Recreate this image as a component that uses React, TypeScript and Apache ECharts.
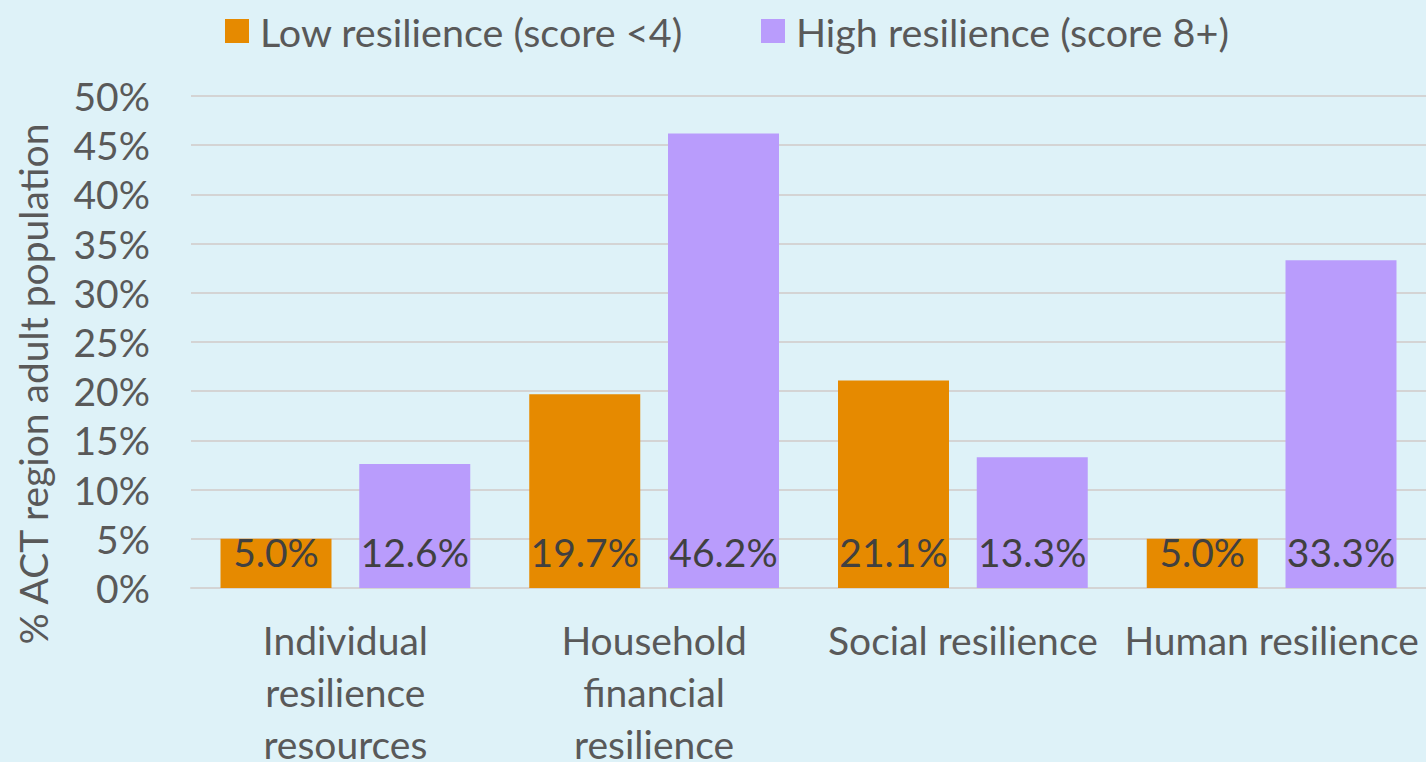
import React, { useEffect, useRef } from "react";
import * as echarts from "echarts";

const categories = [
  "Individual resilience resources",
  "Household financial resilience",
  "Social resilience",
  "Human resilience",
];
const categoryLabels = [
  "Individual\nresilience\nresources",
  "Household\nfinancial\nresilience",
  "Social resilience",
  "Human resilience",
];
const lowResilience = [5.0, 19.7, 21.1, 5.0];
const highResilience = [12.6, 46.2, 13.3, 33.3];
const seriesNames = ["Low resilience (score <4)", "High resilience (score 8+)"];
const yAxisTitle = "% ACT region adult population";

const FONT = "Lato";
const TEXT = "#595959";
const FS = 39;

export default function App() {
  const ref = useRef<HTMLDivElement>(null);
  useEffect(() => {
    document.body.style.margin = "0";
    const chart = echarts.init(ref.current!, null, { renderer: "svg" });
    const labelOpt = {
      show: true,
      position: "insideBottom",
      distance: 17,
      color: "#404040",
      fontFamily: FONT,
      fontSize: FS,
      formatter: (p: any) => Number(p.value).toFixed(1) + "%",
    };
    chart.setOption({
      animation: false,
      backgroundColor: "#DEF2F8",
      textStyle: { fontFamily: FONT },
      legend: {
        top: 6,
        left: 220,
        itemWidth: 24,
        itemHeight: 24,
        itemGap: 78,
        icon: "rect",
        textStyle: { fontSize: 39.5, color: TEXT, fontFamily: FONT, padding: [0, 0, 0, 6] },
        data: seriesNames,
      },
      grid: {
        left: 191,
        right: 0,
        top: 96,
        bottom: 174,
        containLabel: false,
        outerBoundsMode: "none",
      },
      xAxis: {
        type: "category",
        data: categories,
        axisLine: { lineStyle: { color: "#D4D4D4", width: 2 } },
        axisTick: { show: false },
        axisLabel: {
          color: TEXT,
          fontSize: FS,
          fontFamily: FONT,
          lineHeight: 52,
          margin: 26,
          interval: 0,
          formatter: (_v: string, i: number) => categoryLabels[i],
        },
      },
      yAxis: {
        type: "value",
        min: 0,
        max: 50,
        interval: 5,
        axisLine: { show: false },
        axisTick: { show: false },
        splitLine: { lineStyle: { color: "#D4D4D4", width: 2 } },
        axisLabel: {
          color: TEXT,
          fontSize: FS,
          fontFamily: FONT,
          margin: 41,
          formatter: (v: number) => v + "%",
        },
      },
      graphic: [
        {
          type: "text",
          x: 33,
          y: 384,
          rotation: Math.PI / 2,
          style: {
            text: yAxisTitle,
            fill: TEXT,
            fontSize: FS,
            fontFamily: FONT,
            align: "center",
            verticalAlign: "middle",
          },
        },
      ],
      series: [
        {
          name: seriesNames[0],
          type: "bar",
          data: lowResilience,
          itemStyle: { color: "#E68A00" },
          barWidth: 111,
          barGap: "25%",
          label: labelOpt,
        },
        {
          name: seriesNames[1],
          type: "bar",
          data: highResilience,
          itemStyle: { color: "#B99CFC" },
          barWidth: 111,
          barGap: "25%",
          label: labelOpt,
        },
      ],
    });
    return () => chart.dispose();
  }, []);
  return (
    <div
      ref={ref}
      style={{ position: "fixed", left: 0, top: 0, width: 1426, height: 762 }}
    />
  );
}
